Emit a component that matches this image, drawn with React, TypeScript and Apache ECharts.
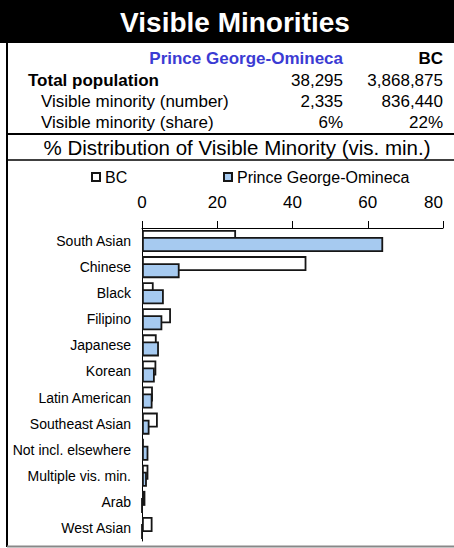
import React, { useEffect, useRef } from "react";
import * as echarts from "echarts";

const categories = [
  "South Asian",
  "Chinese",
  "Black",
  "Filipino",
  "Japanese",
  "Korean",
  "Latin American",
  "Southeast Asian",
  "Not incl. elsewhere",
  "Multiple vis. min.",
  "Arab",
  "West Asian",
];
const bcValues = [25.0, 43.7, 3.1, 7.7, 3.9, 3.8, 2.9, 4.2, 0.5, 1.7, 0.9, 2.8];
const pgValues = [64.1, 10.0, 5.8, 5.4, 4.5, 3.4, 2.8, 2.0, 1.7, 1.3, 0, 0];

const titleText = "Visible Minorities";
const regionName = "Prince George-Omineca";
const provinceName = "BC";
const statLabels = ["Total population", "Visible minority (number)", "Visible minority (share)"];
const regionStats = ["38,295", "2,335", "6%"];
const provinceStats = ["3,868,875", "836,440", "22%"];
const subtitleText = "% Distribution of Visible Minority (vis. min.)";

const FONT = 'Arial, "Liberation Sans", sans-serif';
const BLUE_FILL = "#a6caf0";
const BORDER = "#161616";

export default function App() {
  const ref = useRef<HTMLDivElement>(null);

  useEffect(() => {
    if (!ref.current) return;
    const chart = echarts.init(ref.current, null, { renderer: "svg" });

    const rowY = [80, 101, 122];
    const graphic: any[] = [
      { type: "rect", shape: { x: 0, y: 0, width: 454, height: 43 }, style: { fill: "#000" }, silent: true },
      {
        type: "text",
        style: {
          text: titleText, x: 235, y: 22, textAlign: "center", textVerticalAlign: "middle",
          fill: "#fff", fontSize: 28, fontWeight: "bold", fontFamily: FONT,
        },
      },
      {
        type: "text",
        style: {
          text: regionName, x: 343, y: 58, textAlign: "right", textVerticalAlign: "middle",
          fill: "#3b3bd3", fontSize: 17, fontWeight: "bold", fontFamily: FONT,
        },
      },
      {
        type: "text",
        style: {
          text: provinceName, x: 443, y: 58, textAlign: "right", textVerticalAlign: "middle",
          fill: "#000", fontSize: 17, fontWeight: "bold", fontFamily: FONT,
        },
      },
      {
        type: "text",
        style: {
          text: subtitleText, x: 237, y: 147, textAlign: "center", textVerticalAlign: "middle",
          fill: "#000", fontSize: 20.5, fontFamily: FONT,
        },
      },
      { type: "line", shape: { x1: 7, y1: 43, x2: 7, y2: 547 }, style: { stroke: "#000", lineWidth: 2 }, silent: true },
      { type: "line", shape: { x1: 7, y1: 134, x2: 454, y2: 134 }, style: { stroke: "#000", lineWidth: 2 }, silent: true },
      { type: "line", shape: { x1: 7, y1: 160, x2: 454, y2: 160 }, style: { stroke: "#000", lineWidth: 1.5 }, silent: true },
      { type: "line", shape: { x1: 7, y1: 546.5, x2: 454, y2: 546.5 }, style: { stroke: "#888", lineWidth: 2 }, silent: true },
    ];
    statLabels.forEach((lab, i) => {
      graphic.push({
        type: "text",
        style: {
          text: lab, x: i === 0 ? 28 : 41, y: rowY[i], textAlign: "left", textVerticalAlign: "middle",
          fill: "#000", fontSize: 17, fontWeight: i === 0 ? "bold" : "normal", fontFamily: FONT,
        },
      });
      graphic.push({
        type: "text",
        style: {
          text: regionStats[i], x: 343, y: rowY[i], textAlign: "right", textVerticalAlign: "middle",
          fill: "#000", fontSize: 17, fontFamily: FONT,
        },
      });
      graphic.push({
        type: "text",
        style: {
          text: provinceStats[i], x: 443, y: rowY[i], textAlign: "right", textVerticalAlign: "middle",
          fill: "#000", fontSize: 17, fontFamily: FONT,
        },
      });
    });

    const legendCommon = {
      top: 169,
      padding: 0,
      itemWidth: 8,
      itemHeight: 8,
      icon: "rect",
      selectedMode: false,
      textStyle: { fontSize: 16, color: "#000", fontFamily: FONT },
    };

    chart.setOption({
      animation: false,
      backgroundColor: "#fff",
      textStyle: { fontFamily: FONT },
      grid: { left: 142, right: 11, top: 228, bottom: 7, containLabel: false },
      legend: [
        { ...legendCommon, left: 91, data: [provinceName] },
        { ...legendCommon, left: 223, data: [regionName] },
      ],
      xAxis: {
        type: "value",
        position: "top",
        min: 0,
        max: 80,
        interval: 20,
        axisLine: { show: true, lineStyle: { color: "#000", width: 1 } },
        axisTick: { show: true, length: 7, lineStyle: { color: "#000" } },
        axisLabel: { fontSize: 17, color: "#000", margin: 17, alignMaxLabel: "right", fontFamily: FONT },
        splitLine: { show: false },
      },
      yAxis: {
        type: "category",
        inverse: true,
        data: categories,
        axisLine: { show: true, lineStyle: { color: "#000", width: 1 } },
        axisTick: { show: false },
        axisLabel: { fontSize: 14, color: "#000", margin: 11, fontFamily: FONT },
      },
      series: [
        {
          name: provinceName,
          type: "bar",
          data: bcValues,
          barWidth: 15,
          barGap: "-53%",
          z: 2,
          itemStyle: { color: "#fff", borderColor: BORDER, borderWidth: 1.8 },
        },
        {
          name: regionName,
          type: "bar",
          data: pgValues,
          barWidth: 15,
          barGap: "-53%",
          z: 3,
          itemStyle: { color: BLUE_FILL, borderColor: BORDER, borderWidth: 1.8 },
        },
      ],
      graphic,
    });

    return () => chart.dispose();
  }, []);

  return (
    <div
      ref={ref}
      style={{ position: "absolute", left: 0, top: 0, width: 454, height: 548 }}
    />
  );
}
